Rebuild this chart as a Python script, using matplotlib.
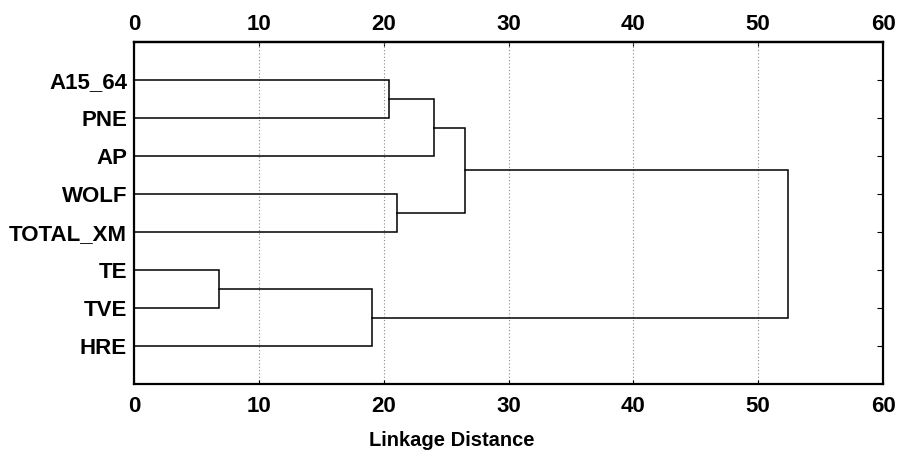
import matplotlib
matplotlib.use("Agg")
import matplotlib.pyplot as plt

labels = ["A15_64", "PNE", "AP", "WOLF", "TOTAL_XM", "TE", "TVE", "HRE"]
merge_left = [0, 8, 3, 9, 5, 12, 11]
merge_right = [1, 2, 4, 10, 6, 7, 13]
merge_height = [20.4, 24.0, 21.1, 26.5, 6.8, 19.1, 52.4]
xticks = [0, 10, 20, 30, 40, 50, 60]

plt.rcParams['font.family'] = ['Liberation Sans', 'DejaVu Sans']
plt.rcParams['font.weight'] = 'bold'

fig = plt.figure(figsize=(8.97, 4.57), dpi=100)
ax = fig.add_axes([134/897, 1-384/457, (883-134)/897, (384-42)/457])

n = len(labels)
ypos = {i: i + 1 for i in range(n)}
hgt = {i: 0.0 for i in range(n)}
for k, (a, b, h) in enumerate(zip(merge_left, merge_right, merge_height)):
    node = n + k
    ya, yb = ypos[a], ypos[b]
    ax.plot([hgt[a], h, h, hgt[b]], [ya, ya, yb, yb], color='black', lw=1.1, solid_joinstyle='miter')
    ypos[node] = (ya + yb) / 2
    hgt[node] = h

ax.set_xlim(0, 60)
ax.set_ylim(n + 1, 0)
ax.set_xticks(xticks)
ax.set_yticks(range(1, n + 1))
ax.set_yticklabels(labels)
ax.tick_params(axis='x', top=False, bottom=True, labelbottom=True,
               direction='in', length=3, labelsize=16, pad=9)
ax.tick_params(axis='y', left=False, right=True, direction='in', length=4, labelsize=16, pad=5)
for lab in ax.get_xticklabels() + ax.get_yticklabels():
    lab.set_fontweight('bold')
ax.grid(axis='x', linestyle=(0, (1, 2)), color='#888888', lw=0.8)
for s in ax.spines.values():
    s.set_linewidth(1.6)

top = ax.secondary_xaxis('top')
top.set_xticks(xticks)
top.tick_params(axis='x', direction='in', length=3, labelsize=16, pad=5)
for lab in top.get_xticklabels():
    lab.set_fontweight('bold')
top.spines['top'].set_linewidth(1.6)

fig.text(452/897, 1-440/457, "Linkage Distance", ha='center', va='center', fontsize=14.5, fontweight='bold')

fig.savefig("out.png", dpi=100)
